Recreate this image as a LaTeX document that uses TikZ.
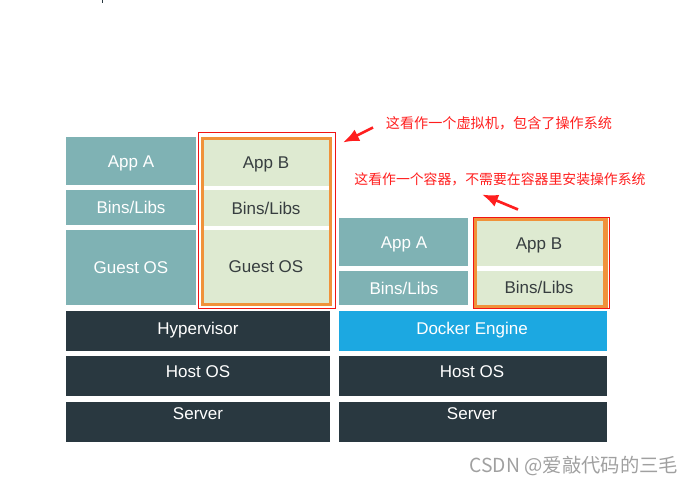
\documentclass[tikz,border=0pt]{standalone}
\usepackage{fontspec}
\setmainfont{Liberation Sans}
\newfontfamily\cjkfont{Noto Sans CJK SC}
\usetikzlibrary{arrows.meta}

\definecolor{layerteal}{RGB}{127,178,180}
\definecolor{layergreen}{RGB}{222,234,209}
\definecolor{layerdark}{RGB}{41,56,64}
\definecolor{layerblue}{RGB}{28,168,225}
\definecolor{frameorange}{RGB}{240,146,58}
\definecolor{framered}{RGB}{240,20,20}
\definecolor{notered}{RGB}{255,30,30}
\definecolor{textdark}{RGB}{55,62,64}
\definecolor{markgray}{RGB}{160,160,160}

\tikzset{every picture/.style={line width=0.75pt}}
\tikzset{
  wtxt/.style={text=white,font=\fontsize{12.75}{15}\selectfont,text height=9.2pt,text depth=0pt},
  dtxt/.style={text=textdark,font=\fontsize{12.75}{15}\selectfont,text height=9.2pt,text depth=0pt},
  note/.style={text=notered,font=\cjkfont\fontsize{10.3}{12}\selectfont},
  ptr/.style={draw=notered,line width=2,-{Latex[length=12,width=9.5]}},
}

\begin{document}
\begin{tikzpicture}[x=0.75pt,y=0.75pt,yscale=-1,xscale=1]
	\path (0,0) rectangle (694,486); %set diagram size 694 x 486

	%Straight Lines
	\draw [color=layerdark]  (102,0) -- (102,3) ;

	%Shape: Rectangle (vm side)
	\fill [layerteal] (66,137) rectangle (196,185) ;
	\fill [layerteal] (66,190) rectangle (196,225) ;
	\fill [layerteal] (66,230) rectangle (196,305) ;
	%Shape: Rectangle (vm app b)
	\draw [color=frameorange, line width=2.25, fill=layergreen] (202,138) rectangle (330,304) ;
	\fill [white] (203.5,186) rectangle (328.5,190) ;
	\fill [white] (203.5,226) rectangle (328.5,230) ;
	\draw [color=framered] (198,132) rectangle (335,308) ;
	%Shape: Rectangle (vm base)
	\fill [layerdark] (66,311) rectangle (330,351) ;
	\fill [layerdark] (66,356) rectangle (330,396) ;
	\fill [layerdark] (66,402) rectangle (330,442) ;

	%Shape: Rectangle (docker side)
	\fill [layerteal] (339,218) rectangle (468,266) ;
	\fill [layerteal] (339,271) rectangle (468,305) ;
	%Shape: Rectangle (docker app b)
	\draw [color=frameorange, line width=2.25, fill=layergreen] (475,219) rectangle (606,306) ;
	\fill [white] (476.5,266) rectangle (603,271) ;
	\fill [frameorange] (603,219) rectangle (607.5,306) ;
	\draw [color=framered] (473,217) rectangle (609,308) ;
	%Shape: Rectangle (docker base)
	\fill [layerblue] (339,311) rectangle (607,351) ;
	\fill [layerdark] (339,356) rectangle (607,396) ;
	\fill [layerdark] (339,402) rectangle (607,442) ;

	% Text Node
	\node [wtxt] (vmAppA) at (131,161) {App A};
	% Text Node
	\node [wtxt] (vmBinsA) at (131,207) {Bins/Libs};
	% Text Node
	\node [wtxt] (vmGuestA) at (131,267) {Guest OS};
	% Text Node
	\node [dtxt] (vmAppB) at (266,162) {App B};
	% Text Node
	\node [dtxt] (vmBinsB) at (266,208) {Bins/Libs};
	% Text Node
	\node [dtxt] (vmGuestB) at (266,266) {Guest OS};
	% Text Node
	\node [wtxt] (hypervisor) at (198,328) {Hypervisor};
	% Text Node
	\node [wtxt] (vmHost) at (198,371) {Host OS};
	% Text Node
	\node [wtxt] (vmServer) at (198,413) {Server};

	% Text Node
	\node [wtxt] (dkAppA) at (404,242) {App A};
	% Text Node
	\node [wtxt] (dkBinsA) at (404,288) {Bins/Libs};
	% Text Node
	\node [dtxt] (dkAppB) at (539,243) {App B};
	% Text Node
	\node [dtxt] (dkBinsB) at (539,287) {Bins/Libs};
	% Text Node
	\node [wtxt] (engine) at (472,328) {Docker Engine};
	% Text Node
	\node [wtxt] (dkHost) at (472,371) {Host OS};
	% Text Node
	\node [wtxt] (dkServer) at (472,413) {Server};

	% Text Node
	\node [note, font=\cjkfont\fontsize{10.6}{12}\selectfont] (vmNote) at (499,123) {这看作一个虚拟机，包含了操作系统};
	% Text Node
	\node [note, font=\cjkfont\fontsize{10.4}{12}\selectfont] (dkNote) at (500,179) {这看作一个容器，不需要在容器里安装操作系统};

	%Straight Lines
	\coordinate (vmTail) at (373,127);
	\coordinate (vmTip) at (343,142);
	\draw [ptr] (vmTail) -- (vmTip) ;
	%Straight Lines
	\coordinate (dkTail) at (518,209);
	\coordinate (dkTip) at (482,194);
	\draw [ptr] (dkTail) -- (dkTip) ;

	% Text Node
	\node [text=markgray, font=\cjkfont\fontsize{14.5}{16}\selectfont, anchor=east] (mark) at (683,466) {CSDN @爱敲代码的三毛};

\end{tikzpicture}
\end{document}
